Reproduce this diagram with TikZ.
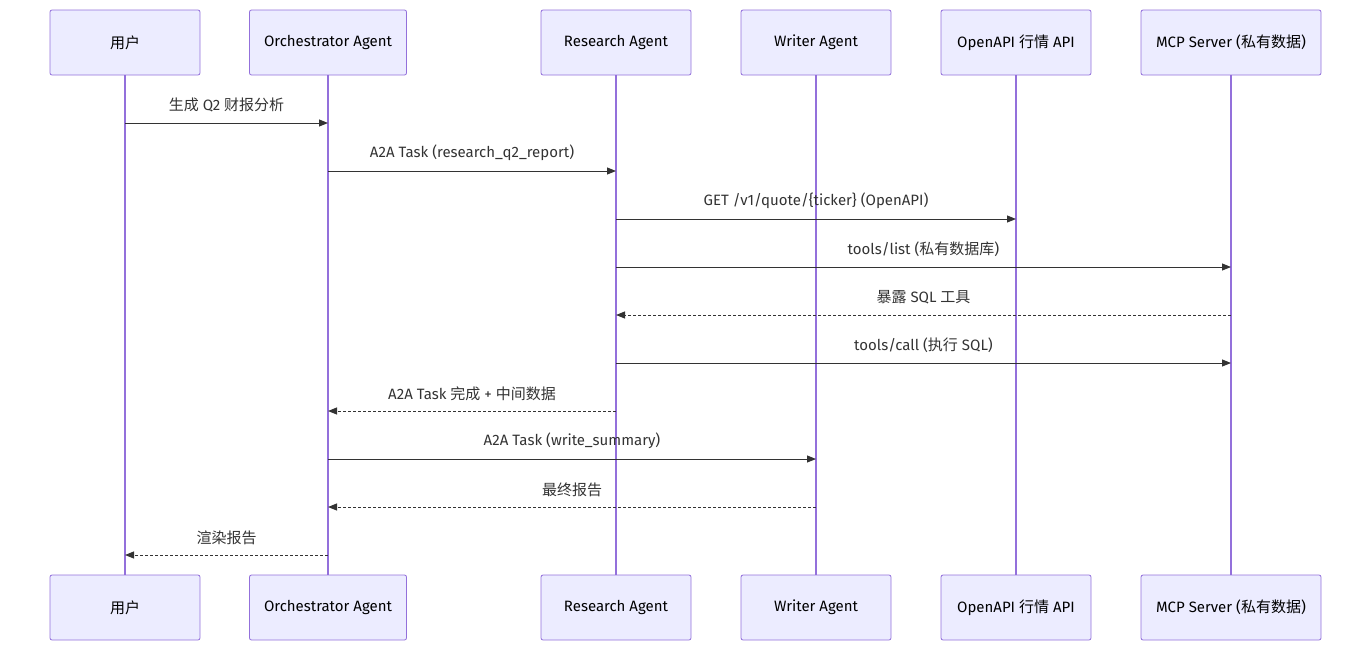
\documentclass[tikz,border=0pt]{standalone}
\usepackage{fontspec}
\setmainfont{Fira Sans}
\newfontfamily\cjk{Noto Sans CJK SC}
\usetikzlibrary{arrows.meta}
\definecolor{boxfill}{HTML}{ECECFF}
\definecolor{boxline}{HTML}{9370DB}
\definecolor{msg}{HTML}{333333}
\begin{document}
\begin{tikzpicture}[x=1pt,y=-1pt,
  actor/.style={draw=boxline,fill=boxfill,line width=0.8pt,rounded corners=2pt,minimum height=65pt,inner sep=0pt,font=\fontsize{15}{18}\selectfont,text=black},
  life/.style={draw=boxline,line width=1.3pt},
  call/.style={draw=msg,line width=1pt,-{Triangle[length=9pt,width=7pt]}},
  reply/.style={call,dashed,dash pattern=on 3pt off 2pt},
  lbl/.style={font=\fontsize{15}{18}\selectfont,text=msg,anchor=south,inner sep=0pt}]
\useasboundingbox (0,0) rectangle (1372,651);
\def\actors{u/125/150/{\cjk 用户},o/328/157/{Orchestrator Agent},r/616/150/{Research Agent},w/816/150/{Writer Agent},a/1016/150/{OpenAPI {\cjk 行情} API},m/1231/180/{MCP Server ({\cjk 私有数据})}}
\foreach \n/\x/\w/\t in \actors {
  \node[actor,minimum width=\w pt] (\n t) at (\x,42.5) {\t};
  \node[actor,minimum width=\w pt] (\n b) at (\x,607.5) {\t};
  \draw[life] (\n t.south) -- (\n b.north);
}
\foreach \n/\x in {u/125,o/328,r/616,w/816,a/1016,m/1231}{
  \foreach \y in {123,171,219,267,315,363,411,459,507,555}{
    \coordinate (\n\y) at (\x,\y);
  }
}
\draw[call] (u123) -- (o123) node[lbl,midway,above=10pt] {{\cjk 生成} Q2 {\cjk 财报分析}};
\draw[call] (o171) -- (r171) node[lbl,midway,above=10pt] {A2A Task (research\_q2\_report)};
\draw[call] (r219) -- (a219) node[lbl,midway,above=10pt] {GET /v1/quote/\{ticker\} (OpenAPI)};
\draw[call] (r267) -- (m267) node[lbl,midway,above=10pt] {tools/list ({\cjk 私有数据库})};
\draw[reply] (m315) -- (r315) node[lbl,midway,above=10pt] {{\cjk 暴露} SQL {\cjk 工具}};
\draw[call] (r363) -- (m363) node[lbl,midway,above=10pt] {tools/call ({\cjk 执行} SQL)};
\draw[reply] (r411) -- (o411) node[lbl,midway,above=10pt] {A2A Task {\cjk 完成} + {\cjk 中间数据}};
\draw[call] (o459) -- (w459) node[lbl,midway,above=10pt] {A2A Task (write\_summary)};
\draw[reply] (w507) -- (o507) node[lbl,midway,above=10pt] {{\cjk 最终报告}};
\draw[reply] (o555) -- (u555) node[lbl,midway,above=10pt] {{\cjk 渲染报告}};
\end{tikzpicture}
\end{document}
